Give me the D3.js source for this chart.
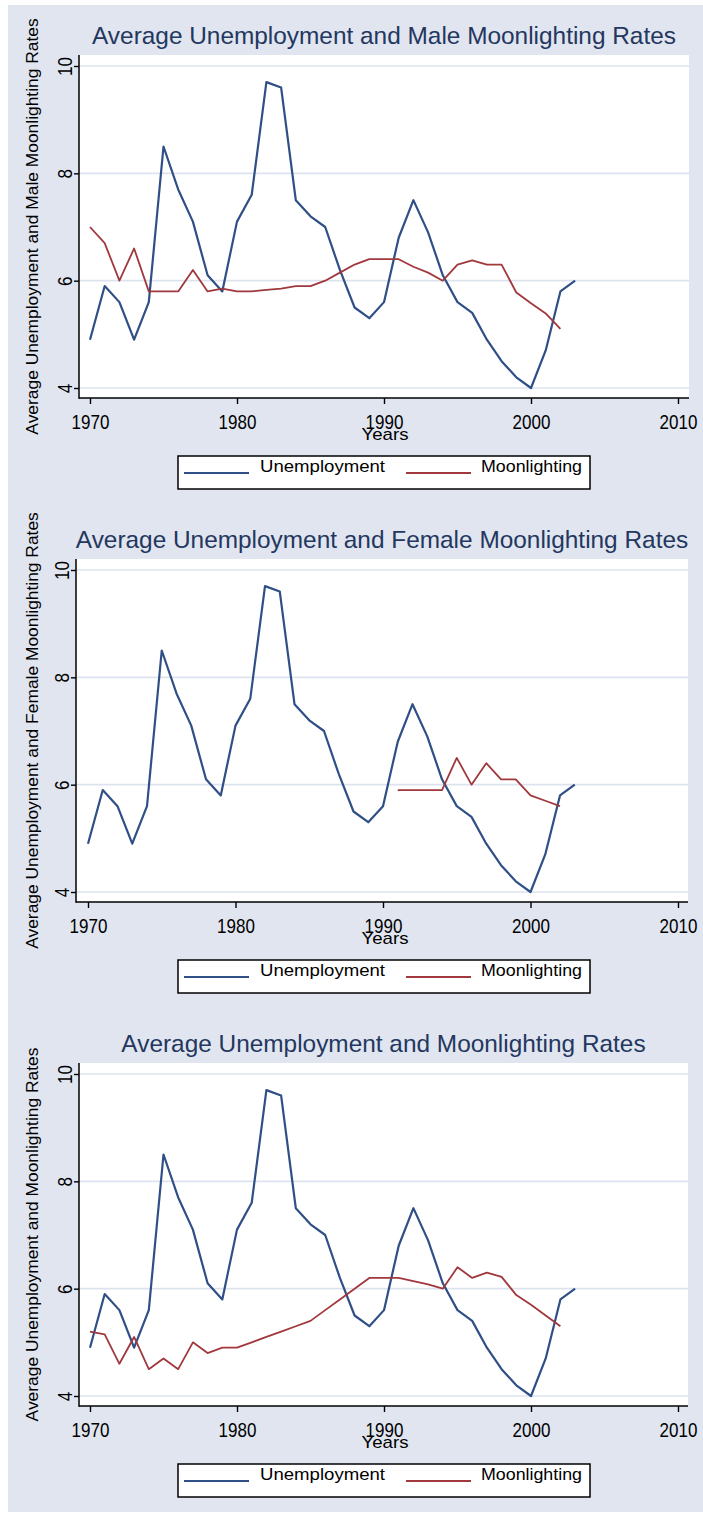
<!DOCTYPE html>
<html><head><meta charset="utf-8">
<script src="https://cdn.jsdelivr.net/npm/d3@7/dist/d3.min.js"></script>
<style>body{margin:0;background:#fff} text{font-family:"Liberation Sans",Arial,sans-serif}</style>
</head><body>
<svg id="c" width="703" height="1514"></svg>
<script>
// ---------- data ----------
const years = [1970,1971,1972,1973,1974,1975,1976,1977,1978,1979,1980,1981,1982,1983,1984,1985,1986,1987,1988,1989,1990,1991,1992,1993,1994,1995,1996,1997,1998,1999,2000,2001,2002,2003];
const unemployment = [4.9,5.9,5.6,4.9,5.6,8.5,7.7,7.1,6.1,5.8,7.1,7.6,9.7,9.6,7.5,7.2,7.0,6.2,5.5,5.3,5.6,6.8,7.5,6.9,6.1,5.6,5.4,4.9,4.5,4.2,4.0,4.7,5.8,6.0];
const maleMoonlighting = [7.0,6.7,6.0,6.6,5.8,5.8,5.8,6.2,5.8,5.85,5.8,5.8,5.83,5.85,5.9,5.9,6.0,6.15,6.3,6.4,6.4,6.4,6.26,6.15,6.0,6.3,6.38,6.3,6.3,5.78,5.58,5.39,5.1,null];
const femaleMoonlighting = [null,null,null,null,null,null,null,null,null,null,null,null,null,null,null,null,null,null,null,null,null,5.9,5.9,5.9,5.9,6.5,6.0,6.4,6.1,6.1,5.8,5.7,5.6,null];
const allMoonlighting = [5.2,5.15,4.6,5.1,4.5,4.7,4.5,5.0,4.8,4.9,4.9,5.0,5.1,5.2,5.3,5.4,5.6,5.8,6.0,6.2,6.2,6.2,6.14,6.08,6.0,6.4,6.2,6.3,6.22,5.88,5.7,5.5,5.3,null];
const yTicks = [4,6,8,10];
const xTicks = [1970,1980,1990,2000,2010];
const titles = ["Average Unemployment and Male Moonlighting Rates","Average Unemployment and Female Moonlighting Rates","Average Unemployment and Moonlighting Rates"];
const xTitle = "Years";
const legendLabels = ["Unemployment","Moonlighting"];

// ---------- layout ----------
const layouts = [
  {off:0,    left:79, right:689, x0:90, x1:678, moon:maleMoonlighting},
  {off:504,  left:76, right:688, x0:88, x1:678, moon:femaleMoonlighting},
  {off:1008, left:79, right:688, x0:90, x1:678, moon:allMoonlighting}
];
const BLUE = "#2f4f86", RED = "#a0383d", GRID = "#dde3ee", BG = "#e0e5f0";

const svg = d3.select("#c");
svg.append("rect").attr("x",8).attr("y",5).attr("width",695).attr("height",1507).attr("fill",BG);

layouts.forEach((L, i) => {
  const top = 55 + L.off, bottom = 398 + L.off;
  const x = d3.scaleLinear().domain([1970,2010]).range([L.x0, L.x1]);
  const y = d3.scaleLinear().domain([4,10]).range([388 + L.off, 66 + L.off]);
  const g = svg.append("g");

  g.append("rect").attr("x",L.left).attr("y",top).attr("width",L.right-L.left).attr("height",bottom-top).attr("fill","#fff");

  // gridlines
  g.selectAll(".grid").data(yTicks).join("line")
    .attr("x1",L.left).attr("x2",L.right)
    .attr("y1",d=>y(d)).attr("y2",d=>y(d))
    .attr("stroke",GRID).attr("stroke-width",1.6);

  // title
  g.append("text").attr("x",(L.left+L.right)/2).attr("y",44+L.off)
    .attr("text-anchor","middle").attr("font-size",24.4).attr("fill","#24375f")
    .text(titles[i]);

  // y title
  g.append("text").attr("transform",`translate(38,${(top+bottom)/2}) rotate(-90)`)
    .attr("text-anchor","middle").attr("font-size",17.4).attr("fill","#000")
    .text(titles[i]);

  // lines
  const pts = s => years.map((yr,k)=>({yr, v:s[k]}));
  const line = d3.line().defined(d=>d.v!=null).x(d=>x(d.yr)).y(d=>y(d.v));
  g.append("path").datum(pts(unemployment)).attr("d",line)
    .attr("fill","none").attr("stroke",BLUE).attr("stroke-width",2.2).attr("stroke-linejoin","round");
  g.append("path").datum(pts(L.moon)).attr("d",line)
    .attr("fill","none").attr("stroke",RED).attr("stroke-width",1.8).attr("stroke-linejoin","round");

  // y axis
  const ya = g.append("g").attr("transform",`translate(${L.left},0)`)
    .call(d3.axisLeft(y).tickValues(yTicks).tickSize(5).tickSizeOuter(0).tickFormat(d3.format("d")));
  ya.select(".domain").remove();
  ya.selectAll(".tick line").attr("stroke","#000").attr("stroke-width",1.4);
  ya.selectAll(".tick text").attr("x",null).attr("dy",null)
    .attr("transform","translate(-7,0) rotate(-90) scale(0.81,1)")
    .attr("text-anchor","middle").attr("font-size",21).attr("font-family",null).attr("fill","#000");

  // x axis
  const xa = g.append("g").attr("transform",`translate(0,${bottom})`)
    .call(d3.axisBottom(x).tickValues(xTicks).tickSize(6).tickSizeOuter(0).tickFormat(d3.format("d")));
  xa.select(".domain").remove();
  xa.selectAll(".tick line").attr("stroke","#000").attr("stroke-width",1.4);
  xa.selectAll(".tick text").attr("y",null).attr("dy",null)
    .attr("transform","translate(0,31) scale(0.81,1)")
    .attr("font-size",21).attr("font-family",null).attr("fill","#000");

  // axis lines
  g.append("line").attr("x1",L.left).attr("x2",L.left).attr("y1",top).attr("y2",bottom+0.7).attr("stroke","#000").attr("stroke-width",1.5);
  g.append("line").attr("x1",L.left).attr("x2",L.right).attr("y1",bottom).attr("y2",bottom).attr("stroke","#000").attr("stroke-width",1.5);

  // x title
  g.append("text").attr("x",385).attr("y",440+L.off).attr("text-anchor","middle")
    .attr("font-size",17).attr("textLength",47).attr("lengthAdjust","spacingAndGlyphs").text(xTitle);

  // legend
  const ly = 456 + L.off;
  g.append("rect").attr("x",178).attr("y",ly).attr("width",412).attr("height",33)
    .attr("fill","#fff").attr("stroke","#000").attr("stroke-width",1.5);
  g.append("line").attr("x1",184).attr("x2",249).attr("y1",ly+17).attr("y2",ly+17).attr("stroke",BLUE).attr("stroke-width",2);
  g.append("line").attr("x1",406).attr("x2",471).attr("y1",ly+17).attr("y2",ly+17).attr("stroke",RED).attr("stroke-width",2);
  g.append("text").attr("x",260).attr("y",ly+16).attr("font-size",16).attr("textLength",125).attr("lengthAdjust","spacingAndGlyphs").text(legendLabels[0]);
  g.append("text").attr("x",481).attr("y",ly+16).attr("font-size",16).attr("textLength",101).attr("lengthAdjust","spacingAndGlyphs").text(legendLabels[1]);
});
</script>
</body></html>
